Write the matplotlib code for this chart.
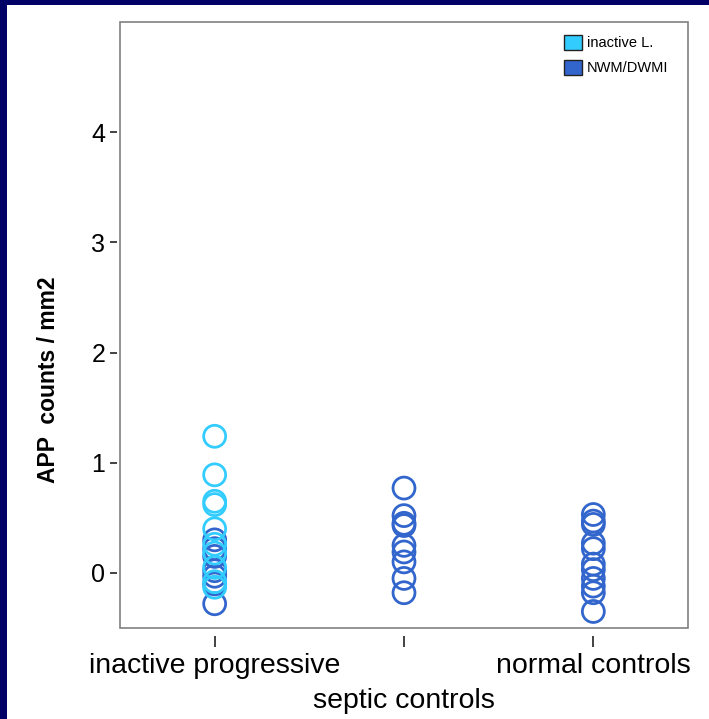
import matplotlib
matplotlib.use("Agg")
import matplotlib.pyplot as plt
from matplotlib.patches import Rectangle, Patch

plt.rcParams['font.family'] = ['Liberation Sans', 'DejaVu Sans']

# Groups on the x axis
categories = ["inactive progressive", "septic controls", "normal controls"]

# APP counts / mm2, inactive lesions (inactive progressive group)
inactive_lesion = [1.24, 0.89, 0.65, 0.62, 0.40, 0.26, 0.18, 0.05, -0.08, -0.13]

# APP counts / mm2, NWM/DWMI per group
nwm_inactive = [0.30, 0.22, 0.15, 0.02, -0.03, -0.10, -0.28]
nwm_septic = [0.77, 0.52, 0.45, 0.43, 0.25, 0.19, 0.10, -0.05, -0.18]
nwm_normal = [0.53, 0.47, 0.44, 0.27, 0.22, 0.08, 0.03, -0.05, -0.12, -0.18, -0.35]

col_lesion = "#33CCFF"
col_nwm = "#3366CC"
navy = "#000066"

fig = plt.figure(figsize=(7.09, 7.19), dpi=100)
fig.patch.set_facecolor("white")
# navy slide border along the top and left edges
fig.patches.append(Rectangle((0, 1 - 5 / 719), 1, 5 / 719, transform=fig.transFigure,
                             facecolor=navy, edgecolor="none", zorder=0))
fig.patches.append(Rectangle((0, 0), 7 / 709, 1, transform=fig.transFigure,
                             facecolor=navy, edgecolor="none", zorder=0))

ax = fig.add_axes([120 / 709, 91 / 719, 568 / 709, 606 / 719])

# frame drawn as a rectangle, ticks detached from it
for side in ["top", "right", "bottom", "left"]:
    ax.spines[side].set_visible(False)
ax.spines["bottom"].set_position(("outward", 6))
ax.spines["left"].set_position(("outward", 2.5))
ax.add_patch(Rectangle((0, 0), 1, 1, transform=ax.transAxes, fill=False,
                       edgecolor="#808080", linewidth=1.2, zorder=5, clip_on=False))

marker_kw = dict(marker="o", s=250, facecolors="none", linewidths=2.0, zorder=3)
nwm_groups = [nwm_inactive, nwm_septic, nwm_normal]
for i, vals in enumerate(nwm_groups):
    ax.scatter([i] * len(vals), vals, edgecolors=col_nwm, **marker_kw)
ax.scatter([0] * len(inactive_lesion), inactive_lesion, edgecolors=col_lesion, **marker_kw)

ax.set_xlim(-0.5, 2.5)
ax.set_ylim(-0.5, 5.0)
ax.set_xticks(range(len(categories)))
ax.set_xticklabels(categories, fontsize=20.5)
ax.set_yticks([0, 1, 2, 3, 4])
ax.set_yticklabels(["0", "1", "2", "3", "4"], fontsize=18)
ax.tick_params(axis="x", length=8, width=1.2, color="#222222", pad=4)
ax.tick_params(axis="y", length=5, width=1.2, color="#222222", pad=3)
# stagger the middle category label one line lower
ax.xaxis.get_major_ticks()[1].set_pad(29)
ax.set_ylabel("APP  counts / mm2", fontsize=16.5, fontweight="bold")
ax.yaxis.set_label_coords(-0.105, 0.41)

handles = [Patch(facecolor=col_lesion, edgecolor="#222222", label="inactive L."),
           Patch(facecolor=col_nwm, edgecolor="#222222", label="NWM/DWMI")]
ax.legend(handles=handles, loc="upper right", bbox_to_anchor=(0.965, 0.979),
          frameon=False, fontsize=10.5, handlelength=1.25, handleheight=1.25,
          handletextpad=0.3, labelspacing=0.65, borderaxespad=0, borderpad=0)

fig.savefig("out.png", dpi=100)
